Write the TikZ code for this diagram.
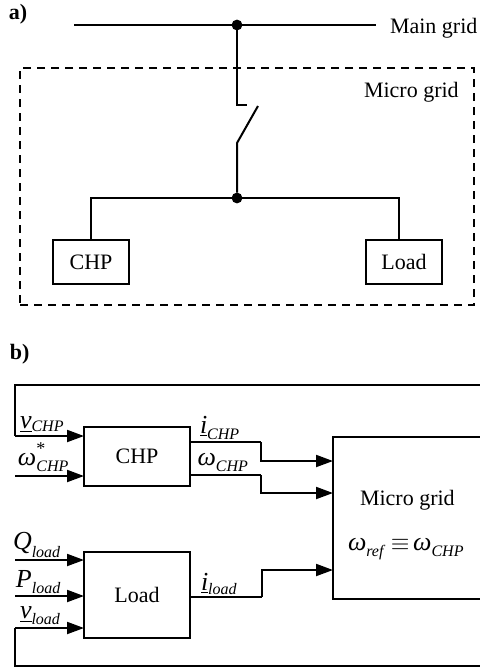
\documentclass[tikz,border=0pt]{standalone}
\usepackage{fontspec}
\setmainfont{Liberation Serif}
\usetikzlibrary{arrows.meta}

\newcommand{\sigA}[1]{{\fontsize{13}{15}\selectfont\itshape #1}}
\newcommand{\sigB}[2][2pt]{\raisebox{-#1}{\fontsize{8}{10}\selectfont\itshape #2}}

\begin{document}
\begin{tikzpicture}[x=0.5pt, y=-0.5pt]
    \useasboundingbox (0,0) rectangle (480,670);

    % Styles for lines and boxes
    \tikzset{
        every node/.style={font=\fontsize{11}{13}\selectfont, inner sep=0pt, outer sep=0pt},
        c_wire/.style={line width=1pt, line join=miter},
        c_sig/.style={c_wire, -{Triangle[length=8.5pt, width=6pt]}},
        c_box/.style={draw, line width=1pt},
        c_small/.style={c_box, minimum width=38pt, minimum height=22pt},
        c_big/.style={c_box, minimum width=53pt},
        c_dot/.style={circle, fill=black, minimum size=5.4pt},
        c_lab/.style={anchor=base west}
    }

    % Part a) points
    \coordinate (g_left) at (74,25);
    \coordinate (g_right) at (376,25);
    \coordinate (sw_a) at (237,105);
    \coordinate (sw_b) at (247,105);
    \coordinate (sw_c) at (258,106);
    \coordinate (sw_d) at (237,143);

    % Dashed area and boxes of part a)
    \node[draw, dashed, dash pattern=on 4pt off 3pt, line width=1pt, minimum width=227pt, minimum height=118.5pt] (a_micro) at (247,186.5) {};
    \node[c_small] (a_chp) at (91,262) {CHP};
    \node[c_small] (a_load) at (404,262) {Load};
    \node[c_dot] (a_top) at (237,25) {};
    \node[c_dot] (a_bus) at (237,198) {};

    \draw[c_wire] (g_left) -- (a_top) -- (g_right);
    \draw[c_wire] (a_top) -- (sw_a) -- (sw_b);
    \draw[c_wire] (sw_c) -- (sw_d) -- (a_bus);
    \draw[c_wire] (a_chp.north) -- (91,198) -- (a_bus);
    \draw[c_wire] (a_bus) -- (399,198) -- (399,240);

    \node[anchor=base west, font=\fontsize{11}{13}\selectfont\bfseries] (lab_a) at (9,19) {a)};
    \node[c_lab] (lab_main) at (390,33) {Main grid};
    \node[c_lab] (lab_micro) at (364,97) {Micro grid};
    \node[anchor=base west, font=\fontsize{11}{13}\selectfont\bfseries] (lab_b) at (10,359) {b)};

    % Blocks of part b)
    \node[c_big, minimum height=29.5pt] (b_chp) at (137,456) {CHP};
    \node[c_big, minimum height=43pt] (b_load) at (137,595) {Load};
    \node[c_box, minimum width=75pt, minimum height=81pt] (b_micro) at (408,518) {};

    % Input and output points
    \coordinate (fb_top) at (15,385);
    \coordinate (fb_topr) at (482,385);
    \coordinate (fb_bot) at (15,666);
    \coordinate (fb_botr) at (482,666);
    \coordinate (v_chp) at (15,436);
    \coordinate (w_star) at (15,476);
    \coordinate (q_load) at (15,560);
    \coordinate (p_load) at (15,596);
    \coordinate (v_load) at (15,628);
    \coordinate (i_chp) at (261,442);
    \coordinate (w_chp) at (261,475);
    \coordinate (i_load) at (262,597);

    % Inputs
    \draw[c_wire] (fb_topr) -- (fb_top) -- (v_chp);
    \draw[c_sig] (v_chp) -- (v_chp -| b_chp.west);
    \draw[c_sig] (w_star) -- (w_star -| b_chp.west);
    \draw[c_sig] (q_load) -- (q_load -| b_load.west);
    \draw[c_sig] (p_load) -- (p_load -| b_load.west);
    \draw[c_wire] (fb_botr) -- (fb_bot) -- (v_load);
    \draw[c_sig] (v_load) -- (v_load -| b_load.west);

    % Outputs
    \draw[c_wire] (i_chp -| b_chp.east) -- (i_chp);
    \draw[c_sig] (i_chp) -- (261,461) -- (b_micro.west |- 0,461);
    \draw[c_wire] (w_chp -| b_chp.east) -- (w_chp);
    \draw[c_sig] (w_chp) -- (261,493) -- (b_micro.west |- 0,493);
    \draw[c_wire] (i_load -| b_load.east) -- (i_load);
    \draw[c_sig] (i_load) -- (262,570) -- (b_micro.west |- 0,570);

    % Signal labels
    \node[c_lab] (t_vchp) at (20,428) {\underline{\sigA{v}}\sigB[1.8pt]{CHP}};
    \node[c_lab] (t_wstar) at (18,465) {\sigA{ω}\rlap{\raisebox{5.5pt}{\fontsize{9}{10}\selectfont *}}\sigB[3pt]{CHP}};
    \node[c_lab] (t_ichp) at (200,433) {\underline{\sigA{i}}\sigB[3pt]{CHP}};
    \node[c_lab] (t_wchp) at (197.5,465) {\sigA{ω}\sigB[3pt]{CHP}};
    \node[c_lab] (t_qload) at (13,549) {\sigA{Q}\sigB[4pt]{load}};
    \node[c_lab] (t_pload) at (16,587) {\sigA{P}\sigB[3pt]{load}};
    \node[c_lab] (t_vload) at (20,618) {\underline{\sigA{v}}\sigB[3pt]{load}};
    \node[c_lab] (t_iload) at (201,590) {\underline{\sigA{i}}\sigB[2pt]{load}};

    % Text of the micro grid block
    \node[c_lab] (t_micro) at (360,505) {Micro grid};
    \node[c_lab] (t_ref) at (348,550) {\sigA{ω}\sigB[3pt]{ref}\,\,{\fontsize{12}{14}\selectfont$\equiv$}\,\sigA{ω}\sigB[3pt]{CHP}};
\end{tikzpicture}
\end{document}
